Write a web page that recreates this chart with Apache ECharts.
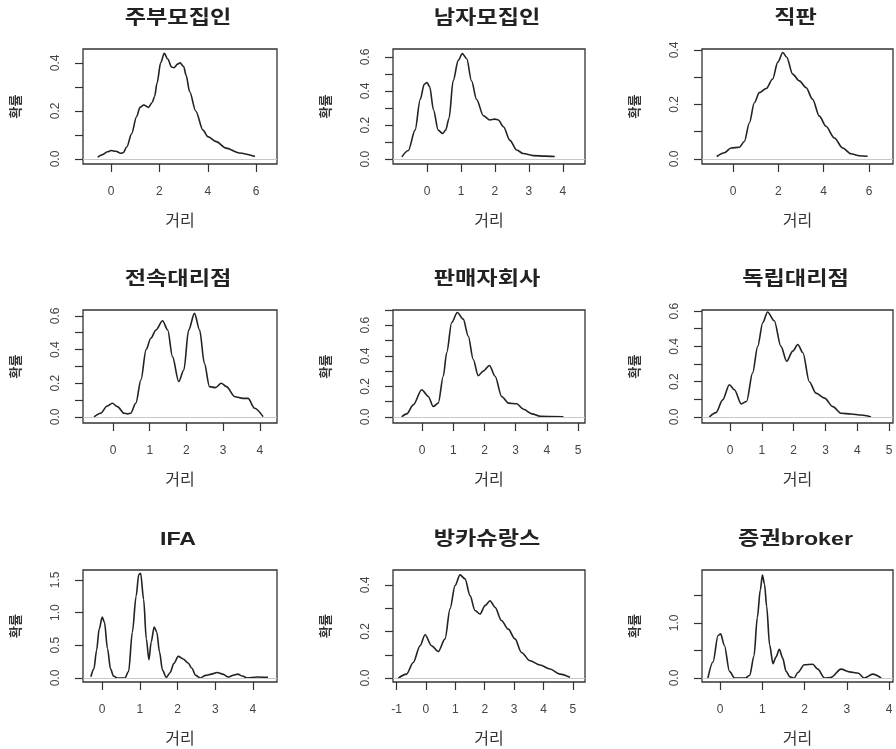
<!DOCTYPE html>
<html>
<head>
<meta charset="utf-8">
<script src="https://cdn.jsdelivr.net/npm/echarts@6/dist/echarts.min.js"></script>
<style>
html,body{margin:0;padding:0;background:#fff;}
#chart{width:896px;height:749px;}
</style>
</head>
<body>
<div id="chart"></div>
<script>
// ---------------- DATA ----------------
const panelTitles = ['주부모집인','남자모집인','직판','전속대리점','판매자회사','독립대리점','IFA','방카슈랑스','증권broker'];
const xAxisTitle = '거리';
const yAxisTitle = '확률';

const xTickValues = [
  [0,2,4,6],
  [0,1,2,3,4],
  [0,2,4,6],
  [0,1,2,3,4],
  [0,1,2,3,4,5],
  [0,1,2,3,4,5],
  [0,1,2,3,4],
  [-1,0,1,2,3,4,5],
  [0,1,2,3,4]
];
const yTickValues = [
  [0,0.1,0.2,0.3,0.4],
  [0,0.1,0.2,0.3,0.4,0.5,0.6],
  [0,0.1,0.2,0.3,0.4],
  [0,0.1,0.2,0.3,0.4,0.5,0.6],
  [0,0.1,0.2,0.3,0.4,0.5,0.6,0.7],
  [0,0.1,0.2,0.3,0.4,0.5,0.6],
  [0,0.5,1.0,1.5],
  [0,0.1,0.2,0.3,0.4],
  [0,0.5,1.0,1.5]
];
const yLabelValues = [
  [0,0.2,0.4],
  [0,0.2,0.4,0.6],
  [0,0.2,0.4],
  [0,0.2,0.4,0.6],
  [0,0.2,0.4,0.6],
  [0,0.2,0.4,0.6],
  [0,0.5,1.0,1.5],
  [0,0.2,0.4],
  [0,1.0]
];

const density1 = [[-0.55,0.008],[-0.35,0.018],[-0.15,0.03],[0.0,0.035],[0.2,0.032],[0.4,0.024],[0.5,0.026],[0.65,0.05],[0.85,0.105],[1.05,0.175],[1.2,0.215],[1.35,0.225],[1.55,0.215],[1.7,0.235],[1.8,0.26],[1.9,0.315],[2.05,0.40],[2.2,0.44],[2.35,0.415],[2.5,0.383],[2.6,0.38],[2.75,0.395],[2.85,0.40],[3.0,0.385],[3.1,0.35],[3.25,0.28],[3.5,0.2],[3.8,0.12],[4.0,0.093],[4.35,0.072],[4.75,0.045],[5.3,0.025],[5.95,0.01]];
const density2 = [[-0.74,0.013],[-0.55,0.05],[-0.35,0.17],[-0.2,0.35],[-0.08,0.44],[0.0,0.45],[0.08,0.425],[0.19,0.29],[0.33,0.17],[0.46,0.15],[0.55,0.17],[0.65,0.24],[0.77,0.46],[0.92,0.58],[1.04,0.62],[1.17,0.59],[1.31,0.46],[1.46,0.35],[1.66,0.255],[1.85,0.23],[2.0,0.235],[2.1,0.23],[2.25,0.19],[2.44,0.11],[2.64,0.053],[2.83,0.033],[3.13,0.02],[3.47,0.017],[3.76,0.015]];
const density3 = [[-0.72,0.009],[-0.38,0.023],[-0.09,0.04],[0.28,0.043],[0.5,0.064],[0.72,0.132],[0.94,0.206],[1.16,0.243],[1.46,0.258],[1.75,0.293],[1.97,0.354],[2.2,0.39],[2.37,0.373],[2.63,0.311],[2.93,0.286],[3.22,0.262],[3.51,0.219],[3.81,0.157],[4.1,0.12],[4.47,0.077],[4.84,0.04],[5.2,0.019],[5.57,0.012],[5.94,0.01]];
const density4 = [[-0.52,0.0],[-0.34,0.022],[-0.16,0.065],[-0.02,0.081],[0.12,0.061],[0.3,0.022],[0.4,0.018],[0.48,0.022],[0.62,0.081],[0.76,0.22],[0.9,0.40],[1.03,0.467],[1.17,0.516],[1.35,0.571],[1.49,0.516],[1.62,0.358],[1.79,0.21],[1.93,0.279],[2.06,0.516],[2.22,0.615],[2.36,0.516],[2.49,0.318],[2.63,0.18],[2.79,0.174],[2.95,0.2],[3.09,0.18],[3.32,0.12],[3.54,0.11],[3.68,0.11],[3.86,0.052],[4.09,0.002]];
const density5 = [[-0.65,0.0],[-0.49,0.02],[-0.28,0.079],[-0.01,0.178],[0.2,0.134],[0.36,0.068],[0.52,0.09],[0.68,0.266],[0.79,0.42],[0.95,0.618],[1.13,0.684],[1.32,0.64],[1.48,0.53],[1.64,0.376],[1.8,0.27],[1.96,0.3],[2.16,0.337],[2.34,0.266],[2.55,0.134],[2.77,0.09],[3.03,0.086],[3.25,0.05],[3.52,0.02],[3.78,0.004],[4.53,0.0]];
const density6 = [[-0.65,0.0],[-0.44,0.025],[-0.23,0.097],[-0.02,0.183],[0.14,0.154],[0.35,0.074],[0.52,0.088],[0.71,0.25],[0.87,0.40],[1.03,0.535],[1.18,0.595],[1.39,0.545],[1.6,0.40],[1.78,0.316],[1.97,0.373],[2.13,0.411],[2.29,0.364],[2.49,0.20],[2.7,0.135],[2.97,0.107],[3.23,0.059],[3.49,0.021],[3.8,0.017],[4.12,0.011],[4.43,0.0]];
const density7 = [[-0.3,0.02],[-0.22,0.14],[-0.15,0.42],[-0.08,0.75],[0.0,0.93],[0.06,0.85],[0.14,0.45],[0.22,0.14],[0.3,0.03],[0.4,0.0],[0.6,0.0],[0.7,0.1],[0.8,0.7],[0.9,1.25],[0.97,1.58],[1.02,1.6],[1.1,1.2],[1.17,0.6],[1.24,0.28],[1.3,0.55],[1.38,0.78],[1.45,0.7],[1.52,0.4],[1.6,0.12],[1.7,0.01],[1.8,0.08],[1.9,0.22],[2.02,0.33],[2.15,0.29],[2.28,0.23],[2.38,0.15],[2.48,0.04],[2.6,0.0],[2.75,0.04],[2.9,0.06],[3.05,0.085],[3.2,0.06],[3.35,0.015],[3.5,0.045],[3.6,0.06],[3.72,0.03],[3.85,0.0],[4.1,0.015],[4.4,0.01]];
const density8 = [[-0.94,0.0],[-0.66,0.017],[-0.43,0.067],[-0.2,0.139],[-0.03,0.186],[0.19,0.139],[0.42,0.114],[0.65,0.168],[0.82,0.297],[0.99,0.397],[1.16,0.443],[1.33,0.426],[1.5,0.354],[1.67,0.29],[1.84,0.275],[2.01,0.311],[2.18,0.332],[2.35,0.304],[2.57,0.247],[2.8,0.21],[3.03,0.168],[3.25,0.11],[3.54,0.074],[3.88,0.056],[4.22,0.039],[4.56,0.017],[4.9,0.003]];
const density9 = [[-0.29,0.0],[-0.17,0.29],[-0.05,0.77],[0.01,0.8],[0.1,0.59],[0.22,0.12],[0.34,0.0],[0.6,0.0],[0.7,0.05],[0.8,0.4],[0.88,1.1],[0.95,1.6],[1.0,1.87],[1.05,1.7],[1.1,1.3],[1.17,0.6],[1.25,0.26],[1.32,0.38],[1.4,0.52],[1.48,0.36],[1.56,0.12],[1.65,0.02],[1.75,0.0],[1.84,0.1],[1.99,0.24],[2.19,0.25],[2.31,0.16],[2.47,0.0],[2.62,0.01],[2.86,0.16],[3.06,0.11],[3.26,0.09],[3.41,0.0],[3.61,0.07],[3.81,0.0]];
const densities = [density1,density2,density3,density4,density5,density6,density7,density8,density9];

// ---------------- LAYOUT / SCALES ----------------
const colLeft = [83, 393, 702];
const colWidth = [194, 192, 191];
const rowTop = [49, 310, 570];
const rowHeight = [115, 113, 112];
const xExtent = [[-1.16,6.86],[-1.0,4.65],[-1.37,7.06],[-0.82,4.47],[-0.93,5.22],[-0.88,5.12],[-0.51,4.64],[-1.12,5.41],[-0.43,4.09]];
const yExtent = [[-0.021,0.458],[-0.029,0.647],[-0.0185,0.403],[-0.036,0.635],[-0.04,0.70],[-0.034,0.606],[-0.061,1.65],[-0.017,0.464],[-0.073,1.96]];

const FONT = "'Liberation Sans','Noto Sans CJK KR',sans-serif";
const grids = [], xAxes = [], yAxes = [], series = [], graphics = [];

for (let i = 0; i < 9; i++) {
  const r = Math.floor(i / 3), c = i % 3;
  grids.push({
    left: colLeft[c], top: rowTop[r], width: colWidth[c], height: rowHeight[r],
    show: true, borderColor: '#333', borderWidth: 1.3, backgroundColor: 'transparent',
    containLabel: false, outerBoundsMode: 'none'
  });
  xAxes.push({
    type: 'value', gridIndex: i, min: xExtent[i][0], max: xExtent[i][1], position: 'bottom',
    axisLine: { show: false, onZero: false }, splitLine: { show: false },
    axisTick: { show: true, length: 8, lineStyle: { color: '#333', width: 1.2 }, customValues: xTickValues[i] },
    axisLabel: { customValues: xTickValues[i], margin: 22, color: '#444', fontSize: 12, fontFamily: FONT,
                 formatter: v => String(v) },
    name: xAxisTitle, nameLocation: 'middle', nameGap: 50,
    nameTextStyle: { color: '#333', fontSize: 16, fontFamily: FONT }
  });
  yAxes.push({
    type: 'value', gridIndex: i, min: yExtent[i][0], max: yExtent[i][1], position: 'left',
    axisLine: { show: false, onZero: false }, splitLine: { show: false },
    axisTick: { show: true, length: 8, lineStyle: { color: '#333', width: 1.2 }, customValues: yTickValues[i] },
    axisLabel: { customValues: yLabelValues[i], rotate: 90, margin: 21, color: '#444', fontSize: 12, fontFamily: FONT,
                 formatter: v => Number(v).toFixed(1) },
    name: yAxisTitle, nameLocation: 'middle', nameGap: 60, nameRotate: 90,
    nameTextStyle: { color: '#333', fontSize: 13, fontWeight: 'bold', fontFamily: FONT }
  });
  series.push({
    type: 'line', xAxisIndex: i, yAxisIndex: i, data: densities[i],
    symbol: 'none', showSymbol: false, smooth: 0.3, smoothMonotone: 'x',
    lineStyle: { color: '#222', width: 1.6 }, silent: true, animation: false,
    markLine: {
      silent: true, symbol: ['none','none'], label: { show: false }, animation: false,
      lineStyle: { color: '#c8c8c8', width: 1, type: 'solid' },
      data: [{ yAxis: 0 }]
    }
  });
  graphics.push({
    type: 'text',
    x: colLeft[c] + colWidth[c] / 2 - 2,
    y: rowTop[r] - 30,
    scaleX: 1.22,
    style: {
      text: panelTitles[i], fill: '#222',
      font: "bold 19px " + FONT,
      align: 'center', verticalAlign: 'middle', textAlign: 'center', textVerticalAlign: 'middle'
    }
  });
}

const chart = echarts.init(document.getElementById('chart'), null, { renderer: 'canvas' });
chart.setOption({
  backgroundColor: '#fff',
  animation: false,
  grid: grids,
  xAxis: xAxes,
  yAxis: yAxes,
  series: series,
  graphic: graphics
});
</script>
</body>
</html>
